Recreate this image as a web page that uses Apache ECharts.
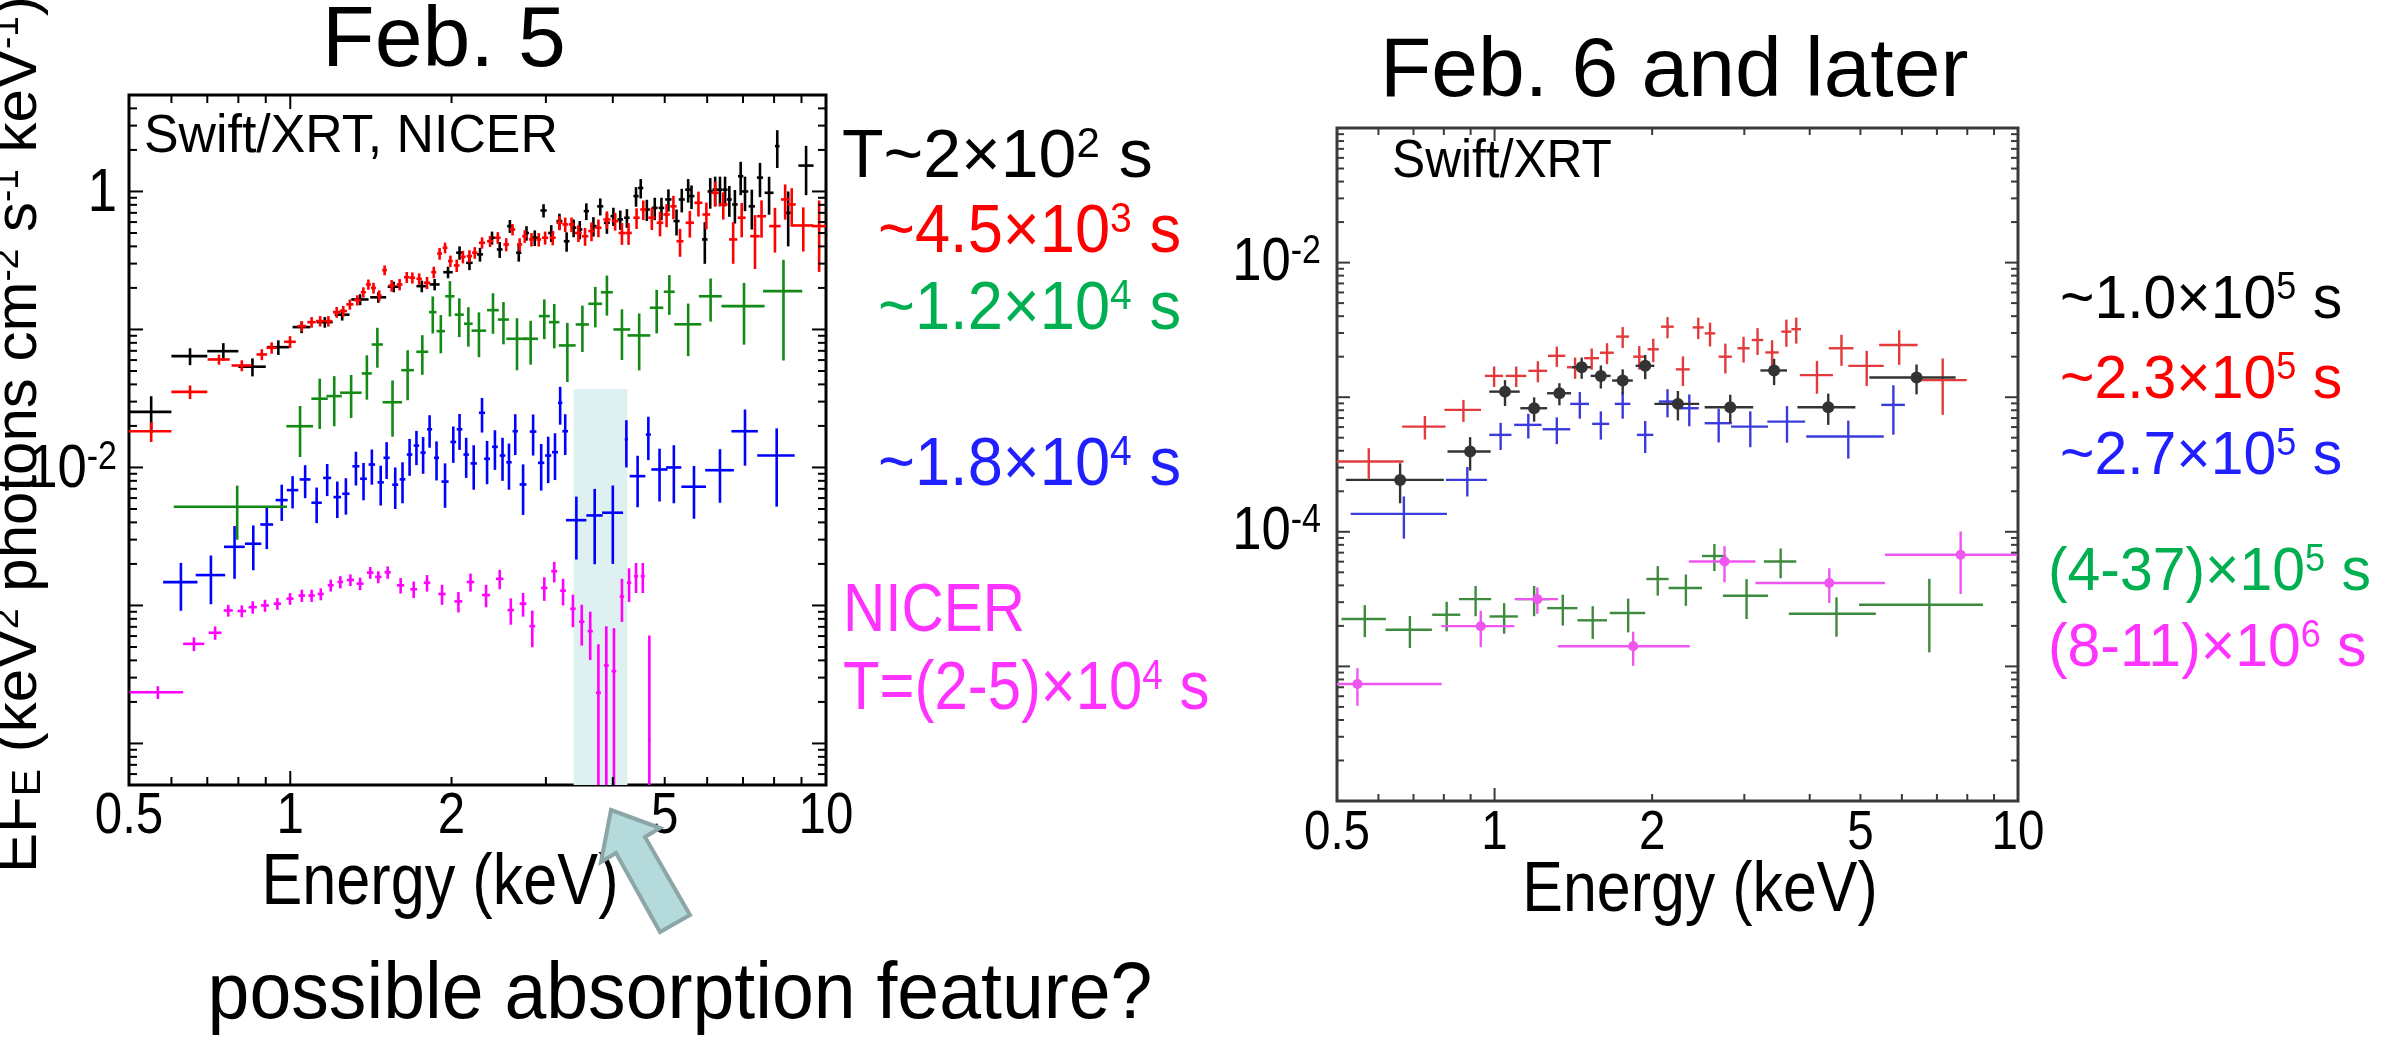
<!DOCTYPE html>
<html>
<head>
<meta charset="utf-8">
<title>X-ray spectra</title>
<script src="https://cdn.jsdelivr.net/npm/echarts@6/dist/echarts.min.js"></script>
<style>
  html, body { margin: 0; padding: 0; background: #fff; }
  #chart { width: 2399px; height: 1042px; }
</style>
</head>
<body>
<div id="chart"></div>
<script>
const FONT = '"Liberation Sans", Arial, "Noto Sans", sans-serif'

// every point: [energy keV, half bin width, EF_E, error]
// Feb. 5 panel
const feb5Xrt200s = [
  [0.55,0.05,0.0253,0.0075],[0.65,0.05,0.0641,0.009],[0.75,0.05,0.0696,0.01],[0.85,0.05,0.0537,0.008],
  [0.95,0.045,0.0744,0.009],[1.05,0.04,0.104,0.01],[1.16,0.04,0.113,0.01],[1.25,0.04,0.128,0.012],
  [1.35,0.05,0.165,0.015],[1.46,0.05,0.171,0.015],[1.56,0.04,0.204,0.018],[1.76,0.04,0.206,0.02],
  [1.86,0.04,0.212,0.02],[1.97,0.04,0.26,0.025],[2.07,0.03,0.36,0.04],[2.16,0.03,0.304,0.035],
  [2.26,0.03,0.35,0.04],[2.38,0.03,0.462,0.05],[2.46,0.03,0.38,0.05],[2.57,0.03,0.561,0.06],
  [2.67,0.03,0.36,0.05],[2.76,0.03,0.5,0.06],[2.86,0.04,0.462,0.06],[2.97,0.04,0.728,0.08],
  [3.07,0.04,0.5,0.07],[3.18,0.04,0.61,0.08],[3.28,0.04,0.436,0.07],[3.38,0.04,0.546,0.08],
  [3.47,0.04,0.53,0.08],[3.57,0.04,0.72,0.1],[3.68,0.05,0.561,0.09],[3.79,0.05,0.78,0.11],
  [3.9,0.05,0.593,0.1],[4.01,0.05,0.662,0.1],[4.13,0.05,0.627,0.1],[4.25,0.05,0.645,0.1],
  [4.42,0.05,0.925,0.15],[4.51,0.05,1.06,0.17],[4.63,0.06,0.74,0.13],[4.79,0.06,0.76,0.14],
  [4.93,0.06,0.76,0.14],[5.08,0.07,0.875,0.16],[5.26,0.07,0.61,0.13],[5.38,0.07,0.875,0.17],
  [5.53,0.07,1.03,0.2],[5.61,0.07,0.925,0.18],[5.94,0.07,0.449,0.15],[6.08,0.07,1.0,0.25],
  [6.21,0.07,1.03,0.25],[6.34,0.07,1.03,0.25],[6.48,0.07,1.03,0.25],[6.6,0.07,0.875,0.22],
  [6.76,0.08,0.805,0.22],[6.93,0.08,1.29,0.35],[7.06,0.1,1.0,0.28],[7.27,0.1,0.78,0.25],
  [7.53,0.1,1.26,0.35],[7.83,0.15,0.978,0.3],[8.11,0.08,2.13,0.65],[8.5,0.1,0.7,0.3],
  [9.18,0.3,1.54,0.6]
]
const feb5Xrt4500s = [
  [0.55,0.05,0.0183,0.003],[0.65,0.05,0.0353,0.004],[0.736,0.035,0.0606,0.005],[0.812,0.035,0.0548,0.005],
  [0.885,0.02,0.0659,0.006],[0.923,0.02,0.0737,0.007],[0.999,0.025,0.0814,0.008],[1.051,0.02,0.1057,0.009],
  [1.096,0.02,0.113,0.01],[1.137,0.02,0.115,0.01],[1.178,0.02,0.115,0.01],[1.221,0.02,0.1335,0.012],
  [1.256,0.02,0.136,0.012],[1.292,0.02,0.152,0.013],[1.334,0.02,0.163,0.014],[1.369,0.015,0.186,0.016],
  [1.399,0.015,0.212,0.018],[1.43,0.015,0.2,0.018],[1.466,0.015,0.176,0.016],[1.5,0.015,0.269,0.022],
  [1.546,0.02,0.208,0.02],[1.6,0.02,0.212,0.02],[1.65,0.02,0.239,0.022],[1.69,0.02,0.237,0.022],
  [1.74,0.02,0.233,0.022],[1.8,0.025,0.218,0.022],[1.853,0.02,0.26,0.025],[1.9,0.02,0.355,0.035],
  [1.945,0.02,0.391,0.035],[1.99,0.02,0.313,0.03],[2.045,0.025,0.291,0.03],[2.1,0.025,0.336,0.035],
  [2.16,0.025,0.34,0.035],[2.21,0.025,0.36,0.035],[2.28,0.03,0.425,0.04],[2.36,0.03,0.436,0.04],
  [2.44,0.03,0.462,0.045],[2.53,0.03,0.413,0.045],[2.6,0.03,0.53,0.05],[2.68,0.03,0.413,0.045],
  [2.74,0.03,0.474,0.05],[2.82,0.03,0.449,0.05],[2.91,0.03,0.449,0.05],[2.99,0.04,0.462,0.05],
  [3.09,0.04,0.462,0.055],[3.18,0.04,0.593,0.07],[3.26,0.04,0.577,0.07],[3.35,0.04,0.577,0.07],
  [3.45,0.05,0.5,0.07],[3.55,0.05,0.474,0.07],[3.65,0.05,0.516,0.08],[3.76,0.05,0.546,0.08],
  [3.9,0.06,0.627,0.09],[4.04,0.06,0.61,0.09],[4.16,0.06,0.5,0.09],[4.28,0.06,0.5,0.09],
  [4.43,0.06,0.645,0.11],[4.56,0.06,0.74,0.12],[4.73,0.07,0.645,0.12],[4.9,0.07,0.593,0.12],
  [5.04,0.07,0.681,0.13],[5.19,0.07,0.78,0.15],[5.34,0.08,0.436,0.1],[5.57,0.1,0.593,0.13],
  [5.78,0.1,0.828,0.17],[5.98,0.1,0.681,0.15],[6.21,0.1,0.978,0.2],[6.43,0.12,0.805,0.18],
  [6.71,0.12,0.449,0.15],[6.96,0.12,0.645,0.18],[7.37,0.15,0.474,0.2],[7.58,0.15,0.662,0.2],
  [8.03,0.2,0.561,0.2],[8.39,0.15,0.875,0.25],[8.63,0.15,0.805,0.25],[9.07,0.4,0.567,0.2],
  [9.71,0.3,0.561,0.3]
]
const feb5Xrt12000s = [
  [0.796,0.19,0.00519,0.0022],[1.043,0.06,0.0199,0.008],[1.135,0.04,0.0315,0.0125],[1.208,0.04,0.0329,0.013],
  [1.299,0.06,0.0348,0.012],[1.39,0.03,0.048,0.017],[1.454,0.035,0.0778,0.025],[1.552,0.065,0.0297,0.013],
  [1.656,0.045,0.0507,0.02],[1.764,0.045,0.0689,0.022],[1.845,0.03,0.1335,0.04],[1.91,0.035,0.0972,0.03],
  [1.986,0.04,0.174,0.05],[2.068,0.04,0.128,0.04],[2.15,0.04,0.11,0.035],[2.25,0.07,0.098,0.035],
  [2.39,0.06,0.138,0.045],[2.5,0.06,0.118,0.04],[2.65,0.12,0.0856,0.035],[2.81,0.09,0.0856,0.03],
  [2.98,0.07,0.125,0.04],[3.11,0.07,0.113,0.04],[3.29,0.12,0.0766,0.035],[3.51,0.1,0.1087,0.04],
  [3.71,0.11,0.1535,0.05],[3.9,0.1,0.186,0.06],[4.16,0.15,0.1,0.04],[4.48,0.22,0.0905,0.04],
  [4.83,0.14,0.1436,0.05],[5.1,0.12,0.1876,0.06],[5.53,0.32,0.109,0.045],[6.09,0.3,0.174,0.06],
  [7.03,0.65,0.1476,0.07],[8.33,0.7,0.1896,0.13]
]
const feb5Xrt18000s = [
  [0.625,0.046,0.001475,0.00056],[0.711,0.045,0.00166,0.00064],[0.787,0.035,0.00266,0.0011],[0.853,0.03,0.0028,0.001],
  [0.904,0.025,0.00386,0.0013],[0.964,0.025,0.0058,0.0017],[1.01,0.025,0.00685,0.0018],[1.066,0.025,0.00819,0.0022],
  [1.12,0.025,0.00555,0.0016],[1.172,0.02,0.0084,0.0022],[1.224,0.02,0.0061,0.0018],[1.27,0.02,0.00645,0.0019],
  [1.326,0.02,0.0102,0.0028],[1.37,0.02,0.00828,0.0025],[1.42,0.02,0.0105,0.003],[1.475,0.02,0.0078,0.0025],
  [1.513,0.02,0.01175,0.0035],[1.57,0.02,0.0075,0.0025],[1.62,0.02,0.0082,0.0027],[1.67,0.02,0.0124,0.0037],
  [1.72,0.02,0.0144,0.004],[1.77,0.02,0.0128,0.0038],[1.82,0.02,0.0189,0.005],[1.875,0.02,0.01175,0.0037],
  [1.945,0.03,0.0079,0.0028],[2.015,0.025,0.0153,0.0045],[2.07,0.025,0.0189,0.0055],[2.13,0.025,0.0124,0.004],
  [2.2,0.03,0.0107,0.0038],[2.28,0.03,0.0249,0.007],[2.33,0.03,0.01156,0.004],[2.41,0.03,0.0141,0.0045],
  [2.49,0.03,0.0122,0.0042],[2.56,0.03,0.0109,0.004],[2.63,0.03,0.0183,0.006],[2.72,0.04,0.00753,0.003],
  [2.84,0.04,0.0182,0.006],[2.94,0.04,0.0108,0.004],[3.03,0.04,0.0122,0.0045],[3.12,0.04,0.0129,0.0048],
  [3.19,0.03,0.0294,0.009],[3.26,0.04,0.0183,0.006],[3.42,0.15,0.00415,0.002],[3.7,0.13,0.00449,0.0025],
  [4.0,0.18,0.0047,0.0027],[4.24,0.03,0.016,0.006],[4.45,0.15,0.00865,0.0035],[4.66,0.05,0.0173,0.006],
  [4.89,0.17,0.00967,0.004],[5.2,0.17,0.01,0.0045],[5.67,0.3,0.00725,0.003],[6.34,0.39,0.00955,0.004],
  [7.06,0.4,0.0183,0.008],[8.09,0.65,0.0122,0.007]
]
const feb5Nicer = [
  [0.566,0.065,0.000235,0.000025],[0.661,0.03,0.000527,0.00006],[0.724,0.02,0.000634,0.00007],[0.766,0.015,0.00092,0.00009],
  [0.812,0.015,0.000911,0.00009],[0.851,0.015,0.000972,0.0001],[0.897,0.015,0.001,0.0001],[0.946,0.015,0.00103,0.0001],
  [0.999,0.015,0.00112,0.00011],[1.051,0.015,0.00118,0.00012],[1.096,0.015,0.00118,0.00012],[1.14,0.015,0.00121,0.00012],
  [1.19,0.015,0.0014,0.00014],[1.24,0.015,0.00148,0.00015],[1.295,0.02,0.00153,0.00015],[1.35,0.02,0.00144,0.00015],
  [1.41,0.02,0.00173,0.00017],[1.46,0.02,0.00161,0.00016],[1.52,0.02,0.00174,0.00018],[1.607,0.025,0.0014,0.00018],
  [1.7,0.025,0.00131,0.00018],[1.8,0.025,0.00146,0.0002],[1.92,0.03,0.00121,0.0002],[2.06,0.035,0.00107,0.00018],
  [2.17,0.035,0.00148,0.00022],[2.32,0.04,0.00119,0.00022],[2.46,0.04,0.00156,0.00025],[2.58,0.035,0.000925,0.0002],
  [2.72,0.04,0.00103,0.0002],[2.83,0.035,0.000708,0.00021],[2.98,0.04,0.00134,0.00026],[3.11,0.04,0.00177,0.0003],
  [3.23,0.04,0.00128,0.00028],[3.37,0.04,0.000946,0.00025],[3.5,0.04,0.000762,0.00025],[3.63,0.04,0.000652,0.00025],
  [3.76,0.04,0.000233,0.00029],[3.89,0.04,0.000367,0.00034],[4.02,0.04,0.000334,0.00035],[4.16,0.04,0.00116,0.0004],
  [4.29,0.04,0.00146,0.0004],[4.42,0.04,0.00163,0.0004],[4.55,0.04,0.00163,0.0004],[4.68,0.02,0.000107,0.0005]
]

// Feb. 6 and later panel
const lateXrt1e5 = [
  [0.66,0.14,2.43e-4,8e-5],[0.898,0.085,3.95e-4,1.1e-4],[1.047,0.07,1.1e-3,2.4e-4],[1.19,0.07,8.28e-4,1.7e-4],
  [1.33,0.07,1.07e-3,2e-4],[1.467,0.06,1.67e-3,3e-4],[1.596,0.07,1.44e-3,2.8e-4],[1.757,0.08,1.33e-3,2.8e-4],
  [1.94,0.08,1.71e-3,3.5e-4],[2.24,0.22,8.92e-4,2.2e-4],[2.82,0.3,8.43e-4,2e-4],[3.42,0.2,1.58e-3,3.5e-4],
  [4.34,0.55,8.43e-4,2.2e-4],[6.4,1.2,1.4e-3,3.5e-4]
]
const lateXrt2_3e5 = [
  [0.575,0.095,3.33e-4,8.5e-5],[0.736,0.07,6.05e-4,1.2e-4],[0.872,0.07,8.05e-4,1.5e-4],[0.998,0.04,1.44e-3,2.5e-4],
  [1.1,0.05,1.44e-3,2.5e-4],[1.21,0.05,1.57e-3,2.8e-4],[1.315,0.05,2.03e-3,3.5e-4],[1.425,0.05,1.67e-3,3e-4],
  [1.533,0.05,1.95e-3,3.5e-4],[1.64,0.05,2.14e-3,3.8e-4],[1.757,0.05,2.82e-3,5e-4],[1.89,0.05,2.0e-3,4e-4],
  [2.01,0.05,2.27e-3,4.5e-4],[2.14,0.06,3.34e-3,6e-4],[2.29,0.07,1.61e-3,4e-4],[2.45,0.06,3.3e-3,6e-4],
  [2.58,0.06,2.98e-3,6e-4],[2.76,0.08,2.0e-3,5e-4],[2.99,0.08,2.31e-3,5e-4],[3.18,0.08,2.66e-3,6e-4],
  [3.39,0.1,2.15e-3,5e-4],[3.61,0.08,3.07e-3,7e-4],[3.77,0.08,3.2e-3,7e-4],[4.13,0.3,1.46e-3,4e-4],
  [4.6,0.25,2.31e-3,6e-4],[5.14,0.4,1.71e-3,5e-4],[5.93,0.5,2.44e-3,7e-4],[7.18,0.8,1.34e-3,6e-4]
]
const lateXrt2_7e5 = [
  [0.671,0.14,1.36e-4,4.7e-5],[0.887,0.08,2.43e-4,6e-5],[1.027,0.05,5.25e-4,1.2e-4],[1.16,0.07,6.23e-4,1.3e-4],
  [1.315,0.08,5.78e-4,1.3e-4],[1.455,0.06,8.92e-4,2e-4],[1.596,0.06,6.34e-4,1.5e-4],[1.757,0.06,8.92e-4,2e-4],
  [1.94,0.07,5.25e-4,1.4e-4],[2.14,0.08,9.28e-4,2.2e-4],[2.355,0.1,8.28e-4,2.2e-4],[2.68,0.16,6.41e-4,1.8e-4],
  [3.08,0.25,6.05e-4,1.8e-4],[3.62,0.3,6.59e-4,2e-4],[4.74,0.8,5.1e-4,1.6e-4],[5.78,0.3,8.77e-4,3.5e-4]
]
const lateXrt4to37e5 = [
  [0.565,0.055,2.25e-5,6e-6],[0.689,0.07,1.87e-5,5e-6],[0.81,0.05,2.42e-5,6e-6],[0.92,0.065,3.16e-5,8e-6],
  [1.043,0.065,2.35e-5,6e-6],[1.19,0.085,3.16e-5,8e-6],[1.35,0.09,2.71e-5,7e-6],[1.54,0.1,2.2e-5,6e-6],
  [1.8,0.14,2.49e-5,7e-6],[2.05,0.1,4.46e-5,1.1e-5],[2.32,0.17,3.82e-5,1e-5],[2.63,0.14,6.61e-5,1.5e-5],
  [3.03,0.3,3.35e-5,1.1e-5],[3.52,0.25,6.02e-5,1.5e-5],[4.5,0.85,2.46e-5,8e-6],[6.77,1.8,2.87e-5,1.6e-5]
]
const lateXrt8to11e6 = [
  [0.547,0.245,7.4e-6,2.3e-6],[0.941,0.15,1.99e-5,6e-6],[1.207,0.115,3.16e-5,7e-6],[1.84,0.52,1.41e-5,4e-6],
  [2.75,0.4,6.02e-5,1.8e-5],[4.36,1.21,4.16e-5,1.2e-5],[7.77,2.2,6.75e-5,3.3e-5]
]

// axes
const ENERGY_RANGE = [0.5, 10]
const FEB5_Y_RANGE = [5e-5, 5]
const LATE_Y_RANGE = [1e-6, 0.1]
const energyTickValues = [0.5, 1, 2, 5, 10]
const energyTickLabels = ['0.5', '1', '2', '5', '10']
const energyMajorTicks = [1]
const energyMinorTicks = [0.6, 0.7, 0.8, 0.9, 2, 3, 4, 5, 6, 7, 8, 9]
const minorSteps = [2, 3, 4, 5, 6, 7, 8, 9]
const feb5Decades = [1e-4, 1e-3, 1e-2, 1e-1, 1]
const lateDecades = [1e-5, 1e-4, 1e-3, 1e-2]
const feb5YLabels = [[1, '1', ''], [0.01, '10', '-2']]
const lateYLabels = [[0.01, '10', '-2'], [1e-4, '10', '-4']]

// shaded region of the possible absorption feature
const absorptionBand = [3.38, 4.26]
const absorptionBandTop = 0.037

const chart = echarts.init(document.getElementById('chart'), null, { renderer: 'canvas' })

function crossSeries(gi, data, color, width, dotR) {
  return {
    type: 'custom',
    xAxisIndex: gi,
    yAxisIndex: gi,
    data,
    clip: true,
    z: 3,
    silent: true,
    encode: { x: 0, y: 2 },
    renderItem(params, api) {
      const e = api.value(0), de = api.value(1), f = api.value(2), df = api.value(3)
      const l = api.coord([e - de > 0 ? e - de : e / 10, f])
      const r = api.coord([e + de, f])
      const t = api.coord([e, f + df])
      const b = api.coord([e, f - df > 0 ? f - df : f / 1000])
      const st = { stroke: color, lineWidth: width }
      const kids = [
        { type: 'line', shape: { x1: l[0], y1: l[1], x2: r[0], y2: r[1] }, style: st },
        { type: 'line', shape: { x1: t[0], y1: t[1], x2: b[0], y2: b[1] }, style: st }
      ]
      if (dotR) kids.push({ type: 'circle', shape: { cx: t[0], cy: l[1], r: dotR }, style: { fill: color } })
      return { type: 'group', children: kids }
    }
  }
}

function decorSeries(gi, yRange, decades, yLabels, cfg) {
  return {
    type: 'custom',
    xAxisIndex: gi,
    yAxisIndex: gi,
    z: 6,
    silent: true,
    clip: false,
    data: [[1, decades[0]]],
    encode: { x: 0, y: 1 },
    renderItem(params, api) {
      const kids = []
      const bl = api.coord([ENERGY_RANGE[0], yRange[0]])
      const tr = api.coord([ENERGY_RANGE[1], yRange[1]])
      const line = (x1, y1, x2, y2) => kids.push({
        type: 'line', shape: { x1, y1, x2, y2 }, style: { stroke: cfg.color, lineWidth: cfg.tickWidth }
      })
      const xTick = (v, len) => {
        const x = api.coord([v, yRange[0]])[0]
        line(x, bl[1], x, bl[1] - len)
        line(x, tr[1], x, tr[1] + len)
      }
      const yTick = (v, len) => {
        const y = api.coord([ENERGY_RANGE[0], v])[1]
        line(bl[0], y, bl[0] + len, y)
        line(tr[0], y, tr[0] - len, y)
      }
      energyMajorTicks.forEach(v => xTick(v, cfg.major))
      energyMinorTicks.forEach(v => xTick(v, cfg.minor))
      decades.forEach(d => yTick(d, cfg.major))
      ;[decades[0] / 10].concat(decades).forEach(d => minorSteps.forEach(m => {
        const v = d * m
        if (v > yRange[0] * 1.001 && v < yRange[1] * 0.999) yTick(v, cfg.minor)
      }))
      energyTickValues.forEach((v, i) => {
        const x = api.coord([v, yRange[0]])[0]
        kids.push({
          type: 'text', x, y: bl[1] + cfg.xLabelDy, scaleX: cfg.labelScaleX,
          style: { text: energyTickLabels[i], font: `${cfg.xLabelSize}px ${FONT}`, fill: '#000', align: 'center', verticalAlign: 'middle' }
        })
      })
      yLabels.forEach(([v, base, exp]) => {
        const y = api.coord([ENERGY_RANGE[0], v])[1]
        kids.push({
          type: 'text', x: bl[0] - cfg.yLabelGap, y: y + cfg.yLabelDy, scaleX: cfg.labelScaleX,
          style: {
            text: exp ? `${base}{e|${exp}}` : base,
            font: `${cfg.yLabelSize}px ${FONT}`,
            fill: '#000', align: 'right', verticalAlign: 'middle',
            rich: { e: { fontSize: Math.round(cfg.yLabelSize * 0.64), fontFamily: FONT, fill: '#000', verticalAlign: 'top' } }
          }
        })
      })
      return { type: 'group', children: kids }
    }
  }
}

const bandSeries = {
  type: 'custom',
  xAxisIndex: 0,
  yAxisIndex: 0,
  z: 1,
  silent: true,
  clip: true,
  data: [[absorptionBand[0], absorptionBandTop]],
  renderItem(params, api) {
    const a = api.coord([absorptionBand[0], absorptionBandTop])
    const b = api.coord([absorptionBand[1], FEB5_Y_RANGE[0]])
    return { type: 'rect', shape: { x: a[0], y: a[1], width: b[0] - a[0], height: b[1] - a[1] }, style: { fill: '#dff0f0' } }
  }
}

function txt(x, y, text, size, color, align, sx, extra) {
  return Object.assign({
    type: 'text', x, y, z: 20, silent: true, scaleX: sx || 1,
    style: {
      text, fill: color, font: `${size}px ${FONT}`, align: align || 'left', verticalAlign: 'middle',
      rich: {
        e: { fontSize: Math.round(size * 0.62), fontFamily: FONT, fill: color, verticalAlign: 'top' },
        u: { fontSize: Math.round(size * 0.68), fontFamily: FONT, fill: color, verticalAlign: 'bottom' }
      }
    }
  }, extra || {})
}

const feb5Labels = [
  [842, 158, 'T~2×10{e|2} s', '#000000', 1.0],
  [878, 233, '~4.5×10{e|3} s', '#ff0000', 0.93],
  [878, 310, '~1.2×10{e|4} s', '#00b050', 0.93],
  [878, 466, '~1.8×10{e|4} s', '#1f1fff', 0.93],
  [843, 612, 'NICER', '#ff33ff', 0.86],
  [843, 690, 'T=(2-5)×10{e|4} s', '#ff33ff', 0.88]
]
const lateLabels = [
  [2060, 301, '~1.0×10{e|5} s', '#000000'],
  [2060, 381, '~2.3×10{e|5} s', '#ff0000'],
  [2060, 457, '~2.7×10{e|5} s', '#1f1fff'],
  [2048, 573, '(4-37)×10{e|5} s', '#00b050'],
  [2048, 649, '(8-11)×10{e|6} s', '#ff33ff']
]

const arrowPoints = [
  [611, 810], [660, 828], [645, 837], [690, 915], [660, 932], [616, 853], [601, 862]
]

const graphics = [
  txt(444, 42, 'Feb. 5', 86, '#000', 'center'),
  txt(144, 137, 'Swift/XRT, NICER', 54, '#000', 'left', 0.96),
  txt(440, 884, 'Energy (keV)', 72, '#000', 'center', 0.85),
  txt(19, 873, 'EF{u|E} (keV{e|2} photons cm{e|-2} s{e|-1} keV{e|-1})', 60, '#000', 'left', 1, { rotation: Math.PI / 2 }),
  txt(1380, 73, 'Feb. 6 and later', 84, '#000'),
  txt(1392, 162, 'Swift/XRT', 54, '#000', 'left', 0.92),
  txt(1700, 892, 'Energy (keV)', 70, '#000', 'center', 0.87),
  txt(680, 996, 'possible absorption feature?', 80, '#000', 'center', 0.94),
  {
    type: 'polygon', z: 25, silent: true,
    shape: { points: arrowPoints },
    style: { fill: '#b4dadc', stroke: '#8ca6a7', lineWidth: 4, lineJoin: 'miter' }
  }
]
feb5Labels.forEach(([x, y, t, c, sx]) => graphics.push(txt(x, y, t, 68, c, 'left', sx)))
lateLabels.forEach(([x, y, t, c]) => graphics.push(txt(x, y, t, 62, c, 'left', 0.95)))

const hiddenAxis = {
  axisLine: { show: false }, axisTick: { show: false }, axisLabel: { show: false }, splitLine: { show: false }
}

chart.setOption({
  animation: false,
  backgroundColor: '#ffffff',
  grid: [
    { left: 129, top: 95, width: 697, height: 690, show: true, borderColor: '#000', borderWidth: 3, backgroundColor: 'transparent', outerBoundsMode: 'none' },
    { left: 1337, top: 128, width: 681, height: 673, show: true, borderColor: '#3a3a3a', borderWidth: 3, backgroundColor: 'transparent', outerBoundsMode: 'none' }
  ],
  xAxis: [
    { type: 'log', logBase: 10, gridIndex: 0, min: ENERGY_RANGE[0], max: ENERGY_RANGE[1], ...hiddenAxis },
    { type: 'log', logBase: 10, gridIndex: 1, min: ENERGY_RANGE[0], max: ENERGY_RANGE[1], ...hiddenAxis }
  ],
  yAxis: [
    { type: 'log', logBase: 10, gridIndex: 0, min: FEB5_Y_RANGE[0], max: FEB5_Y_RANGE[1], ...hiddenAxis },
    { type: 'log', logBase: 10, gridIndex: 1, min: LATE_Y_RANGE[0], max: LATE_Y_RANGE[1], ...hiddenAxis }
  ],
  graphic: graphics,
  series: [
    bandSeries,
    crossSeries(0, feb5Xrt18000s, '#0000ff', 2.6),
    crossSeries(0, feb5Xrt12000s, '#138a13', 2.6),
    crossSeries(0, feb5Nicer, '#ff00ff', 2.6),
    crossSeries(0, feb5Xrt200s, '#000000', 2.6),
    crossSeries(0, feb5Xrt4500s, '#ff0000', 2.6),
    crossSeries(1, lateXrt4to37e5, '#3d8a3d', 2.4),
    crossSeries(1, lateXrt8to11e6, '#ef55ef', 2.4, 5),
    crossSeries(1, lateXrt2_7e5, '#3b3bdd', 2.4),
    crossSeries(1, lateXrt2_3e5, '#e33b3b', 2.4),
    crossSeries(1, lateXrt1e5, '#333333', 2.4, 6),
    decorSeries(0, FEB5_Y_RANGE, feb5Decades, feb5YLabels, {
      color: '#000', tickWidth: 2, major: 14, minor: 8, xLabelSize: 58, xLabelDy: 32, labelScaleX: 0.85,
      yLabelSize: 62, yLabelGap: 12, yLabelDy: 2
    }),
    decorSeries(1, LATE_Y_RANGE, lateDecades, lateYLabels, {
      color: '#3a3a3a', tickWidth: 2, major: 13, minor: 7, xLabelSize: 56, xLabelDy: 33, labelScaleX: 0.85,
      yLabelSize: 62, yLabelGap: 16, yLabelDy: 0
    })
  ]
})
</script>
</body>
</html>
